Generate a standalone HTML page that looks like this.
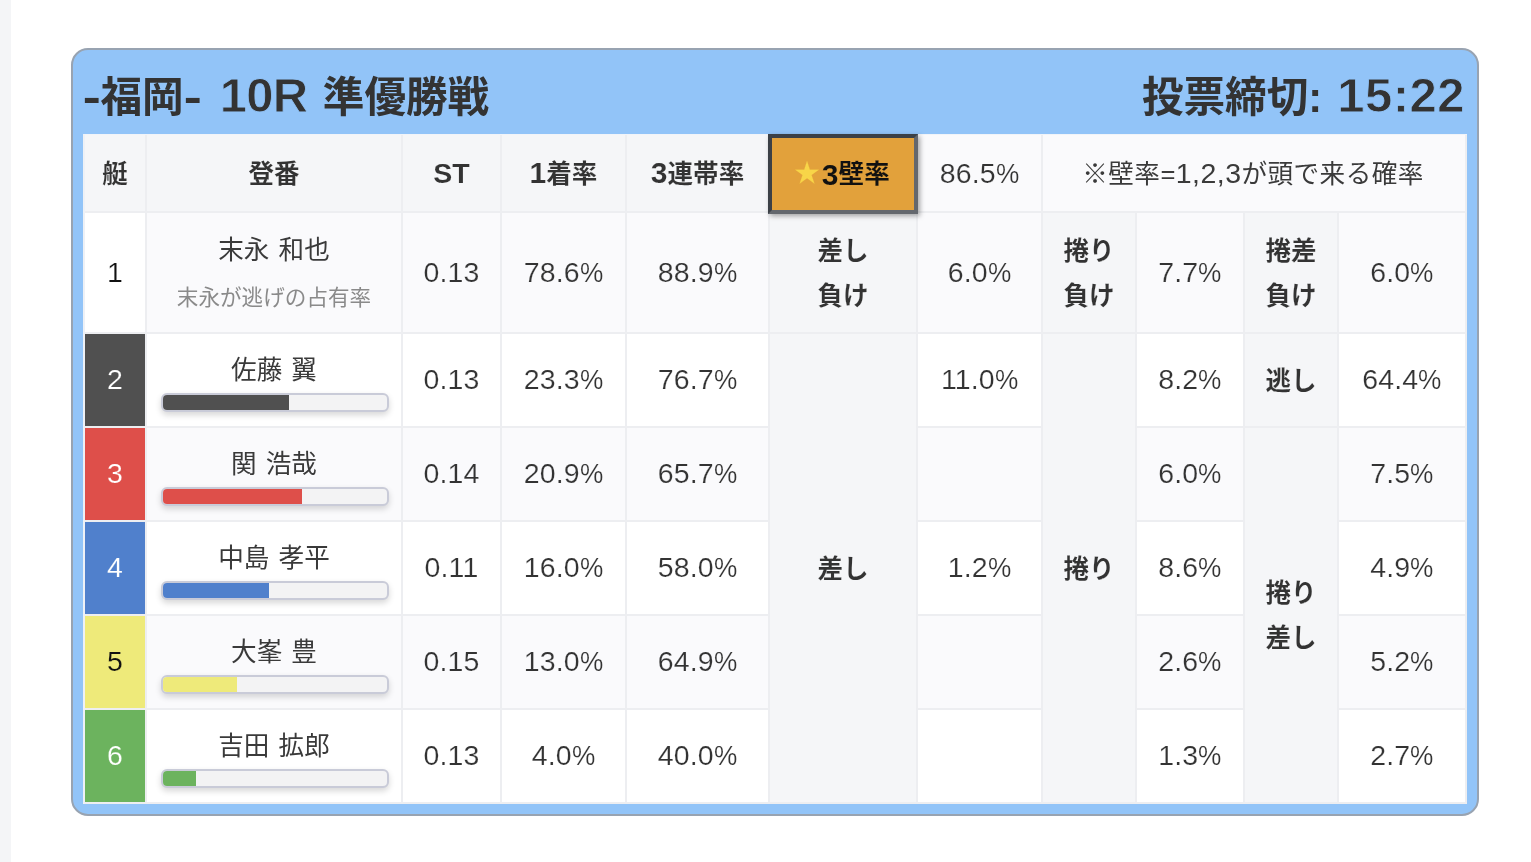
<!DOCTYPE html>
<html lang="ja">
<head>
<meta charset="utf-8">
<title>-福岡- 10R 準優勝戦</title>
<style>
*{box-sizing:border-box;margin:0;padding:0}
html,body{width:1531px;height:862px;overflow:hidden;background:#fff}
body{position:relative;font-family:"Liberation Sans","Noto Sans CJK JP",sans-serif;color:#3a3a3a}
.strip{position:absolute;left:0;top:0;width:11px;height:862px;background:#f4f5f7}
.card{position:absolute;left:71px;top:48px;width:1408px;height:768px;background:#92c4f8;border:2px solid #98a3b1;border-radius:17px}
.head{position:absolute;left:10px;top:0;width:1384px;height:83px;font-weight:700;color:#333;font-size:41.6px;line-height:1;white-space:nowrap}
.head .t1{position:absolute;left:0px;top:25px}
.head .t2{position:absolute;right:2px;top:25px}
.head .n{font-size:49px;letter-spacing:-.8px;line-height:41.6px}
.head .n2{font-size:49px;letter-spacing:.5px;margin-left:3.5px;line-height:41.6px}
.head .n,.head .n2{-webkit-text-stroke:.8px #92c4f8}
.head .hy{display:inline-block;width:17.5px;text-align:center;transform:scaleX(1.3)}
.head .g1{margin-left:7px}
.head .g2{margin-left:4px}
table{position:absolute;left:10px;top:84px;width:1384px;border-collapse:separate;border-spacing:0;table-layout:fixed;border-top:1px solid #f1f4f9;border-left:2px solid #eef1f6;background:#fff}
td,th{border-right:2px solid #edeef1;border-bottom:2px solid #edeef1;text-align:center;vertical-align:middle;padding:0;font-weight:400;font-size:25.6px;line-height:1;white-space:nowrap;overflow:visible}
tr.h{height:78px}
tr.r1{height:121px}
tr.r{height:94px}
th{background:#f5f6f8;font-weight:700;color:#333;padding-top:4px;-webkit-text-stroke:.12px #f5f6f8}
.odd td{background:#fafafc}
td.lab,.odd td.lab{background:#f5f6f8;font-weight:700;color:#333;line-height:44.8px;-webkit-text-stroke:.12px #f5f6f8}
td.num,th.num{font-size:28.5px;letter-spacing:.1px;color:#333;-webkit-text-stroke:.2px #fff}
.odd td.num,tr.h td.num{-webkit-text-stroke-color:#fafafc}
.d{font-size:28.5px;line-height:0}
.p{display:inline-block;transform:scaleX(.92);transform-origin:0 50%;margin-right:-2px}
td.b1,.odd td.b1{background:#fff;color:#111;-webkit-text-stroke-color:#fff}
td.b2{background:#505050;color:#fff;-webkit-text-stroke-color:#505050}
td.b3,.odd td.b3{background:#de4f4a;color:#fff;-webkit-text-stroke-color:#de4f4a}
td.b4{background:#5080cc;color:#fff;-webkit-text-stroke-color:#5080cc}
td.b5,.odd td.b5{background:#eeea7a;color:#111;-webkit-text-stroke-color:#eeea7a}
td.b6{background:#6cb35e;color:#fff;-webkit-text-stroke-color:#6cb35e}
td.name{vertical-align:top}
.nm{display:block;font-weight:400;word-spacing:2px;height:26px;line-height:26px;margin-top:23px}
.r1 .nm{margin-top:24px}
.sub{display:block;font-size:21.6px;height:22px;line-height:22px;margin-top:24px;color:#8a8a8a}
.bar{display:block;margin:10px 0 0 14px;width:228px;height:19px;border:2px solid #c9cbd8;border-radius:6px;background:#f3f3f4;box-shadow:0 3px 6px rgba(0,0,0,.16);overflow:hidden}
.bar i{display:block;height:100%}
th.btn{position:relative;padding:0}
.btnbox{-webkit-text-stroke:.1px #e2a13b;position:absolute;left:-2px;top:-1px;right:-2px;bottom:-3px;background:#e2a13b;color:#111;border:4px solid;border-color:#3b4046 #63676d #63676d #3b4046;box-shadow:2px 2px 5px rgba(0,0,0,.35);display:flex;align-items:center;justify-content:center;padding-top:2px;padding-right:2px}
th .d{font-size:30px}
th .d.st{font-size:28.5px}
.star{color:#f8d548;margin-right:2px;position:relative;top:-1px}
td.lab{padding-top:2px}
tr.r td.num{padding-bottom:2px}
td.note{letter-spacing:.45px;padding-top:4px;padding-right:2px}
tr.h td{background:#fafafc}
</style>
</head>
<body>
<div class="strip"></div>
<div class="card">
  <div class="head">
    <span class="t1"><span class="hy">-</span>福岡<span class="hy">-</span> <span class="n g1">10R</span> <span class="g2">準優勝戦</span></span>
    <span class="t2">投票締切: <span class="n2">15:22</span></span>
  </div>
  <table>
    <colgroup>
      <col style="width:62px"><col style="width:256px"><col style="width:99px"><col style="width:125px"><col style="width:143px"><col style="width:148px"><col style="width:125px"><col style="width:94px"><col style="width:108px"><col style="width:94px"><col style="width:128px">
    </colgroup>
    <tr class="h">
      <th>艇</th><th>登番</th><th><span class="d st">ST</span></th><th><span class="d">1</span>着率</th><th><span class="d">3</span>連帯率</th>
      <th class="btn"><div class="btnbox"><span class="star">★</span><span class="d">3</span>壁率</div></th>
      <td class="num">86.5<span class="p">%</span></td>
      <td colspan="4" class="note">※壁率=<span class="d">1,2,3</span>が頭で来る確率</td>
    </tr>
    <tr class="r1 odd">
      <td class="num b1">1</td>
      <td class="name"><span class="nm">末永 和也</span><span class="sub">末永が逃げの占有率</span></td>
      <td class="num">0.13</td><td class="num">78.6<span class="p">%</span></td><td class="num">88.9<span class="p">%</span></td>
      <td class="lab">差し<br>負け</td><td class="num">6.0<span class="p">%</span></td>
      <td class="lab">捲り<br>負け</td><td class="num">7.7<span class="p">%</span></td>
      <td class="lab">捲差<br>負け</td><td class="num">6.0<span class="p">%</span></td>
    </tr>
    <tr class="r">
      <td class="num b2">2</td>
      <td class="name"><span class="nm">佐藤 翼</span><span class="bar"><i style="width:56.2%;background:#505050"></i></span></td>
      <td class="num">0.13</td><td class="num">23.3<span class="p">%</span></td><td class="num">76.7<span class="p">%</span></td>
      <td class="lab" rowspan="5">差し</td><td class="num">11.0<span class="p">%</span></td>
      <td class="lab" rowspan="5">捲り</td><td class="num">8.2<span class="p">%</span></td>
      <td class="lab">逃し</td><td class="num">64.4<span class="p">%</span></td>
    </tr>
    <tr class="r odd">
      <td class="num b3">3</td>
      <td class="name"><span class="nm">関 浩哉</span><span class="bar"><i style="width:62%;background:#de4f4a"></i></span></td>
      <td class="num">0.14</td><td class="num">20.9<span class="p">%</span></td><td class="num">65.7<span class="p">%</span></td>
      <td class="num"></td>
      <td class="num">6.0<span class="p">%</span></td>
      <td class="lab" rowspan="4">捲り<br>差し</td><td class="num">7.5<span class="p">%</span></td>
    </tr>
    <tr class="r">
      <td class="num b4">4</td>
      <td class="name"><span class="nm">中島 孝平</span><span class="bar"><i style="width:47.2%;background:#5080cc"></i></span></td>
      <td class="num">0.11</td><td class="num">16.0<span class="p">%</span></td><td class="num">58.0<span class="p">%</span></td>
      <td class="num">1.2<span class="p">%</span></td>
      <td class="num">8.6<span class="p">%</span></td>
      <td class="num">4.9<span class="p">%</span></td>
    </tr>
    <tr class="r odd">
      <td class="num b5">5</td>
      <td class="name"><span class="nm">大峯 豊</span><span class="bar"><i style="width:33.1%;background:#eeea7a"></i></span></td>
      <td class="num">0.15</td><td class="num">13.0<span class="p">%</span></td><td class="num">64.9<span class="p">%</span></td>
      <td class="num"></td>
      <td class="num">2.6<span class="p">%</span></td>
      <td class="num">5.2<span class="p">%</span></td>
    </tr>
    <tr class="r">
      <td class="num b6">6</td>
      <td class="name"><span class="nm">吉田 拡郎</span><span class="bar"><i style="width:14.6%;background:#6cb35e"></i></span></td>
      <td class="num">0.13</td><td class="num">4.0<span class="p">%</span></td><td class="num">40.0<span class="p">%</span></td>
      <td class="num"></td>
      <td class="num">1.3<span class="p">%</span></td>
      <td class="num">2.7<span class="p">%</span></td>
    </tr>
  </table>
</div>
</body>
</html>
